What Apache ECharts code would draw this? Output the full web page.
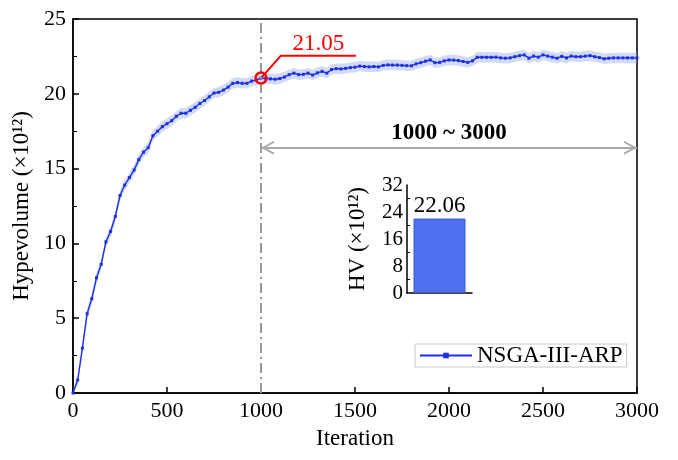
<!DOCTYPE html>
<html>
<head>
<meta charset="utf-8">
<script src="https://cdn.jsdelivr.net/npm/echarts@6/dist/echarts.min.js"></script>
<style>
  html, body { margin: 0; padding: 0; background: #fff; }
  #chart { width: 678px; height: 460px; }
</style>
</head>
<body>
<div id="chart"></div>
<script>
// iterations 0..3000, step 25
const iterations = []
for (let i = 0; i <= 3000; i += 25) iterations.push(i)

const hvValues = [
  0, 0.87, 3.0, 5.3, 6.3, 7.7, 8.6, 10.1, 10.8, 11.8,
  13.2, 13.9, 14.4, 14.9, 15.6, 16.1, 16.4, 17.2, 17.5, 17.8,
  18.0, 18.2, 18.5, 18.7, 18.7, 18.9, 19.1, 19.35, 19.55, 19.8,
  20.05, 20.1, 20.25, 20.45, 20.7, 20.75, 20.7, 20.7, 20.85, 20.92,
  21.05, 21.03, 21.0, 20.97, 21.02, 21.12, 21.28, 21.38, 21.28, 21.3,
  21.38, 21.25, 21.4, 21.5, 21.38, 21.62, 21.68, 21.66, 21.7, 21.75,
  21.78, 21.85, 21.82, 21.8, 21.82, 21.8, 21.9, 21.93, 21.92, 21.92,
  21.9, 21.88, 21.87, 22.0, 22.08, 22.18, 22.26, 22.08, 22.1, 22.2,
  22.26, 22.25, 22.22, 22.16, 22.1, 22.2, 22.44, 22.44, 22.44, 22.44,
  22.45, 22.4, 22.38, 22.4, 22.48, 22.55, 22.6, 22.38, 22.52, 22.45,
  22.6, 22.52, 22.45, 22.38, 22.5, 22.4, 22.52, 22.48, 22.48, 22.52,
  22.55, 22.48, 22.42, 22.34, 22.38, 22.4, 22.4, 22.4, 22.4, 22.4,
  22.4
]
const bandHalf = 0.35

const xTicks = [0, 500, 1000, 1500, 2000, 2500, 3000]
const yTicks = [0, 5, 10, 15, 20, 25]

const markIter = 1000
const markValue = 21.05
const leaderPts = [[1000, 21.05], [1106, 22.55], [1505, 22.55]]
const rangeStart = 1000
const rangeEnd = 3000
const rangeY = 16.4

const insetCategories = ['']
const insetValues = [22.06]
const insetTicks = [0, 8, 16, 24, 32]

const FONT = '"Liberation Serif", "Times New Roman", serif'
// open chevron, tip sits at the centre of the symbol box
const chevron = 'path://M10,12 L20,24 L17,24 L10,15.6 L3,24 L0,24 Z M10,0 L10.01,0.01 Z'

const chart = echarts.init(document.getElementById('chart'))

const mainData = iterations.map((x, i) => [x, hvValues[i]])

const option = {
  animation: false,
  textStyle: { fontFamily: FONT },
  grid: [
    { left: 73, right: 41, top: 19, bottom: 67, show: true, borderColor: '#000', borderWidth: 1.5 },
    { left: 407, top: 185, width: 65, height: 108 }
  ],
  legend: {
    data: ['NSGA-III-ARP'],
    left: 415,
    top: 344,
    itemWidth: 52,
    itemHeight: 7,
    itemGap: 4,
    padding: [0, 4, 0, 4],
    borderColor: '#c8c8c8',
    borderWidth: 1,
    textStyle: { fontFamily: FONT, fontSize: 23, color: '#000' }
  },
  xAxis: [
    {
      type: 'value',
      gridIndex: 0,
      min: 0,
      max: 3000,
      interval: 500,
      name: 'Iteration',
      nameLocation: 'middle',
      nameGap: 34,
      nameTextStyle: { fontFamily: FONT, fontSize: 23, color: '#000' },
      axisLine: { lineStyle: { color: '#000', width: 1.5 } },
      axisTick: { inside: true, length: 6, lineStyle: { color: '#000', width: 1.5 } },
      axisLabel: { fontFamily: FONT, fontSize: 22, color: '#000', margin: 7,
        formatter: v => xTicks.includes(v) ? String(v) : '' },
      splitLine: { show: false }
    },
    {
      type: 'category',
      gridIndex: 1,
      data: insetCategories,
      axisLine: { lineStyle: { color: '#000', width: 1.5 } },
      axisTick: { alignWithLabel: true, length: 5, lineStyle: { color: '#000', width: 1 } },
      axisLabel: { show: false }
    }
  ],
  yAxis: [
    {
      type: 'value',
      gridIndex: 0,
      min: 0,
      max: 25,
      interval: 5,
      name: 'Hypevolume (×10¹²)',
      nameLocation: 'middle',
      nameRotate: 90,
      nameGap: 34,
      nameTextStyle: { fontFamily: FONT, fontSize: 23, color: '#000' },
      axisLine: { show: true, lineStyle: { color: '#000', width: 1.5 } },
      axisTick: { inside: true, length: 6, lineStyle: { color: '#000', width: 1.5 } },
      minorTick: { show: true, splitNumber: 2, length: 4, lineStyle: { color: '#000', width: 1 } },
      axisLabel: { fontFamily: FONT, fontSize: 22, color: '#000', margin: 7,
        formatter: v => yTicks.includes(v) ? String(v) : '' },
      splitLine: { show: false }
    },
    {
      type: 'value',
      gridIndex: 1,
      min: 0,
      max: 32,
      interval: 8,
      name: 'HV (×10¹²)',
      nameLocation: 'middle',
      nameRotate: 90,
      nameGap: 38,
      nameTextStyle: { fontFamily: FONT, fontSize: 23, color: '#000' },
      axisLine: { show: true, lineStyle: { color: '#000', width: 1.5 } },
      axisTick: { inside: true, length: 5, lineStyle: { color: '#000', width: 1 } },
      minorTick: { show: true, splitNumber: 2, length: 3, lineStyle: { color: '#000', width: 1 } },
      axisLabel: { fontFamily: FONT, fontSize: 21, color: '#000', margin: 4,
        formatter: v => insetTicks.includes(v) ? String(v) : '' },
      splitLine: { show: false }
    }
  ],
  series: [
    {
      name: 'band',
      type: 'custom',
      xAxisIndex: 0,
      yAxisIndex: 0,
      data: mainData,
      silent: true,
      clip: true,
      z: 1,
      renderItem: (params, api) => {
        if (params.dataIndex !== 0) return null
        const upper = mainData.map(d => api.coord([d[0], d[1] + bandHalf]))
        const lower = mainData.map(d => api.coord([d[0], Math.max(0, d[1] - bandHalf)])).reverse()
        return {
          type: 'polygon',
          shape: { points: upper.concat(lower) },
          style: { fill: 'rgba(140,165,225,0.4)' }
        }
      }
    },
    {
      name: 'NSGA-III-ARP',
      type: 'line',
      data: mainData,
      color: '#1c2fe6',
      symbol: 'rect',
      symbolSize: 3,
      lineStyle: { color: '#1c2fe6', width: 1.4 },
      itemStyle: { color: '#1c2fe6' },
      z: 3,
      markLine: {
        silent: true,
        symbol: ['none', 'none'],
        animation: false,
        data: [
          {
            xAxis: markIter,
            lineStyle: { color: '#999', width: 2, type: [10, 4, 2, 4] },
            label: { show: false }
          },
          [
            { coord: [rangeStart, rangeY], symbol: chevron, symbolSize: [14, 26] },
            { coord: [rangeEnd, rangeY], symbol: chevron, symbolSize: [14, 26] }
          ]
        ],
        lineStyle: { color: '#aaa', width: 2, type: 'solid' },
        label: {
          show: true,
          position: 'middle',
          formatter: '1000 ~ 3000',
          fontFamily: FONT,
          fontSize: 23,
          fontWeight: 'bold',
          color: '#000',
          distance: 3
        }
      },
      markPoint: {
        silent: true,
        data: [{ coord: [markIter, markValue] }],
        symbol: 'circle',
        symbolSize: 11,
        itemStyle: { color: 'rgba(255,255,255,0)', borderColor: '#ff0000', borderWidth: 2.5 },
        label: { show: false }
      }
    },
    {
      name: 'leader',
      type: 'line',
      data: leaderPts,
      symbol: 'none',
      lineStyle: { color: '#ff0000', width: 2 },
      silent: true,
      z: 4,
      markPoint: {
        silent: true,
        symbol: 'circle',
        symbolSize: 0,
        data: [{ coord: [1305, 22.55] }],
        label: {
          show: true,
          position: 'top',
          distance: 0,
          formatter: markValue.toFixed(2),
          fontFamily: FONT,
          fontSize: 23,
          color: '#ff0000'
        }
      }
    },
    {
      name: 'HV',
      type: 'bar',
      xAxisIndex: 1,
      yAxisIndex: 1,
      data: insetValues,
      barWidth: 52,
      itemStyle: { color: '#5170f0', borderColor: '#3d5ad8', borderWidth: 1 },
      label: {
        show: true,
        position: 'top',
        distance: 1,
        formatter: p => p.value.toFixed(2),
        fontFamily: FONT,
        fontSize: 23,
        color: '#000'
      }
    }
  ]
}

chart.setOption(option)
</script>
</body>
</html>
